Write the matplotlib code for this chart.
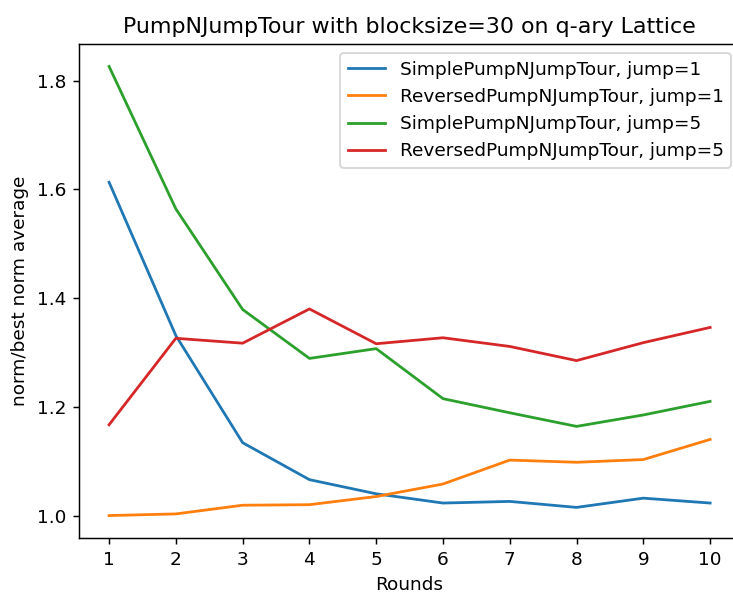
import matplotlib
matplotlib.use("Agg")
from matplotlib import pyplot as plt

rounds = [1, 2, 3, 4, 5, 6, 7, 8, 9, 10]

simple_j1 = [1.613, 1.331, 1.134, 1.066, 1.040, 1.023, 1.026, 1.015, 1.032, 1.023]
reversed_j1 = [1.000, 1.003, 1.019, 1.020, 1.035, 1.058, 1.102, 1.098, 1.103, 1.140]
simple_j5 = [1.826, 1.564, 1.379, 1.289, 1.307, 1.215, 1.189, 1.164, 1.185, 1.210]
reversed_j5 = [1.167, 1.326, 1.317, 1.380, 1.316, 1.327, 1.311, 1.285, 1.318, 1.346]

labels = ['SimplePumpNJumpTour, jump=1', 'ReversedPumpNJumpTour, jump=1',
          'SimplePumpNJumpTour, jump=5', 'ReversedPumpNJumpTour, jump=5']

d = 133
fig = plt.figure(figsize=(733 / d, 592 / d), dpi=d)
# the original picture is cropped on the right, so the axes run past the edge
ax = fig.add_axes([0.1078, 0.0912, 0.902, 0.8345])

ax.plot(rounds, simple_j1, label=labels[0])
ax.plot(rounds, reversed_j1, label=labels[1])
ax.plot(rounds, simple_j5, label=labels[2])
ax.plot(rounds, reversed_j5, label=labels[3])

ax.set_xticks(rounds)
ax.set_title('PumpNJumpTour with blocksize=30 on q-ary Lattice')
ax.set_xlabel('Rounds')
ax.set_ylabel('norm/best norm average')
ax.legend(loc='upper right')

plt.savefig('out.png', dpi=d)
